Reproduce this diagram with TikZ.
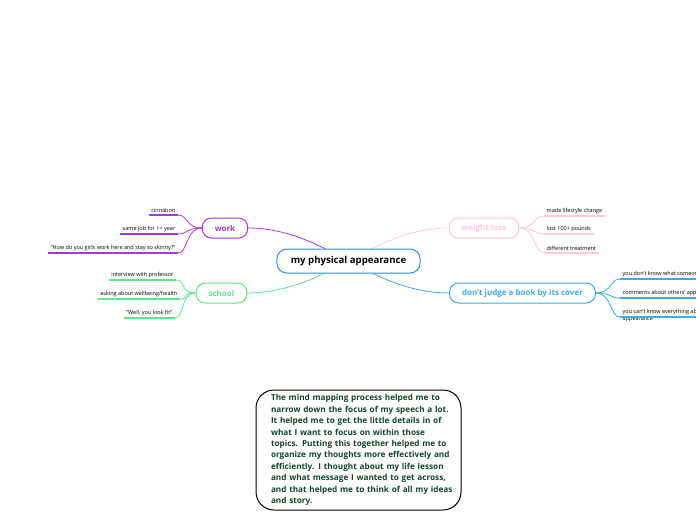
\documentclass[tikz,border=0pt]{standalone}
\usepackage{fontspec}
\setmainfont{Open Sans}
\usetikzlibrary{positioning,backgrounds}

\definecolor{wkcol}{RGB}{165,55,232}
\definecolor{wlcol}{RGB}{250,202,226}
\definecolor{sccol}{RGB}{96,228,140}
\definecolor{djcol}{RGB}{58,172,232}
\definecolor{ctcol}{RGB}{52,144,212}
\definecolor{notecol}{RGB}{22,68,44}

\begin{document}
\begin{tikzpicture}[
    x=1pt, y=-1pt,
    topic/.style={draw=ctcol, line width=1pt, rounded corners=10pt, fill=white,
                  font=\fontsize{9.6}{11}\selectfont\bfseries,
                  minimum height=24pt, inner xsep=14pt},
    branch/.style={draw=#1, line width=1pt, rounded corners=9pt, fill=white, text=#1,
                   font=\fontsize{8}{9}\selectfont\bfseries,
                   minimum height=20pt, inner xsep=12.5pt},
    leaf/.style={font=\fontsize{5.5}{6.5}\selectfont, inner xsep=2.5pt, inner ysep=1.8pt,
                 align=left},
    uline/.style={draw=#1, line width=1.3pt},
    link/.style={draw=#1, line width=0.8pt},
    note/.style={draw=black, line width=1pt, rounded corners=18pt, fill=white,
                 text=notecol, font=\fontsize{8.2}{11.4}\selectfont\bfseries,
                 align=left, text width=197pt, inner xsep=4pt,
                 minimum height=120pt},
]
\useasboundingbox (0,0) rectangle (696,520);

% ---- Central topic --------------------------------------------------
\node[topic] (ctr) at (348.5,261) {my physical appearance};

% ---- Main branches --------------------------------------------------
\node[branch=wkcol] (work) at (225,228) {work};
\node[branch=wlcol] (wloss) at (484,228) {weight loss};
\node[branch=sccol] (school) at (221.5,293) {school};
\node[branch=djcol] (judge) at (522.5,293) {don't judge a book by its cover};

% ---- Leaves: work ---------------------------------------------------
\node[leaf, anchor=south east] (w1) at (178,215) {cinnabon};
\node[leaf, anchor=south east] (w2) at (178,234) {same job for 1+ year};
\node[leaf, anchor=south east] (w3) at (178,253) {"How do you girls work here and stay so skinny?"};

% ---- Leaves: school -------------------------------------------------
\node[leaf, anchor=south east] (s1) at (176,280) {interview with professor};
\node[leaf, anchor=south east] (s2) at (180,299) {asking about wellbeing/health};
\node[leaf, anchor=south east] (s3) at (175,318) {"Well, you look fit"};

% ---- Leaves: weight loss --------------------------------------------
\node[leaf, anchor=south west] (l1) at (544,216) {made lifestyle change};
\node[leaf, anchor=south west] (l2) at (544,234) {lost 100+ pounds};
\node[leaf, anchor=south west] (l3) at (544,253) {different treatment};

% ---- Leaves: don't judge --------------------------------------------
\node[leaf, anchor=south west] (j1) at (620,279) {you don't know what someone is going through};
\node[leaf, anchor=south west] (j2) at (620,298) {comments about others' appearance};
\node[leaf, anchor=south west] (j3) at (620,317) {you can't know everything about someone};
\node[leaf, anchor=north west, inner ysep=0pt] (j3b) at (j3.south west) {appearance};

% ---- Underlines -----------------------------------------------------
\foreach \n in {w1,w2,w3} \draw[uline=wkcol] (\n.south west) -- (\n.south east);
\foreach \n in {s1,s2,s3} \draw[uline=sccol] (\n.south west) -- (\n.south east);
\foreach \n in {l1,l2,l3} \draw[uline=wlcol] (\n.south west) -- (\n.south east);
\foreach \n in {j1,j2,j3} \draw[uline=djcol] (\n.south west) -- (\n.south east);

% ---- Connectors -----------------------------------------------------
\begin{scope}[on background layer]
    \draw[link=wkcol] (work.east) .. controls +(45,0) and +(-20,-10) .. (ctr.center);
    \draw[link=wlcol] (wloss.west) .. controls +(-45,0) and +(20,-10) .. (ctr.center);
    \draw[link=sccol] (school.east) .. controls +(45,0) and +(-20,10) .. (ctr.center);
    \draw[link=djcol] (judge.west) .. controls +(-45,0) and +(20,10) .. (ctr.center);

    \foreach \n in {w1,w2,w3}
        \draw[link=wkcol] (work.west) .. controls +(-16,0) and +(10,0) .. (\n.south east);
    \foreach \n in {s1,s2,s3}
        \draw[link=sccol] (school.west) .. controls +(-16,0) and +(10,0) .. (\n.south east);
    \foreach \n in {l1,l2,l3}
        \draw[link=wlcol] (wloss.east) .. controls +(16,0) and +(-10,0) .. (\n.south west);
    \foreach \n in {j1,j2,j3}
        \draw[link=djcol] (judge.east) .. controls +(16,0) and +(-10,0) .. (\n.south west);
\end{scope}

% ---- Reflection note ------------------------------------------------
\node[note] (refl) at (358.5,450) {\leftskip=11pt
The mind mapping process helped me to\\
narrow down the focus of my speech a lot.\\
It helped me to get the little details in of\\
what I want to focus on within those\\
topics. Putting this together helped me to\\
organize my thoughts more effectively and\\
efficiently. I thought about my life lesson\\
and what message I wanted to get across,\\
and that helped me to think of all my ideas\\
and story.\par};

\end{tikzpicture}
\end{document}
